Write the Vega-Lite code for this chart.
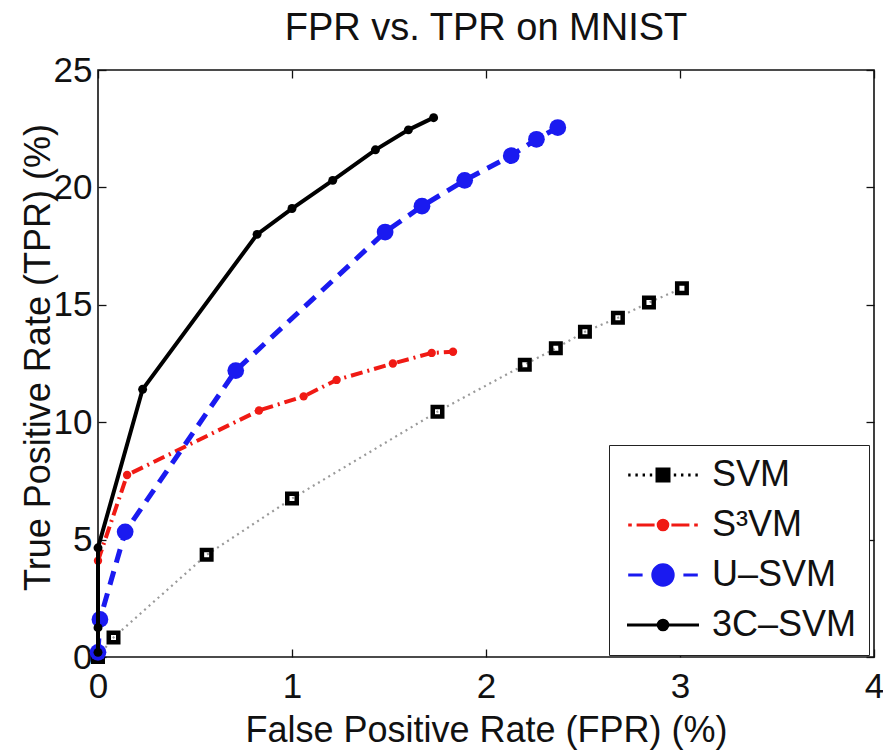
{
  "$schema": "https://vega.github.io/schema/vega-lite/v6.json",
  "width": 776,
  "height": 587,
  "autosize": {"type": "none"},
  "padding": {"left": 98, "top": 70, "right": 9, "bottom": 98},
  "background": "white",
  "config": {
    "font": "Liberation Sans",
    "view": {"stroke": "#111", "strokeWidth": 1.6},
    "axis": {
      "grid": false,
      "domain": false,
      "tickColor": "#111",
      "tickSize": -8,
      "tickWidth": 1.3,
      "labelFont": "Liberation Sans",
      "labelFontSize": 35,
      "labelColor": "#111",
      "titleFont": "Liberation Sans",
      "titleFontSize": 36,
      "titleFontWeight": "normal",
      "titleColor": "#111"
    },
    "legend": {
      "symbolOpacity": 1
    }
  },
  "title": {
    "text": "FPR vs. TPR on MNIST",
    "font": "Liberation Sans",
    "fontSize": 38,
    "fontWeight": "normal",
    "color": "#111",
    "anchor": "middle",
    "baseline": "alphabetic",
    "offset": 20,
    "dy": 45
  },
  "data": {
    "values": [
      {"method": "SVM", "i": 0, "fpr": 0.0, "tpr": 0.0},
      {"method": "SVM", "i": 1, "fpr": 0.08, "tpr": 0.83},
      {"method": "SVM", "i": 2, "fpr": 0.56, "tpr": 4.35},
      {"method": "SVM", "i": 3, "fpr": 1.0, "tpr": 6.75},
      {"method": "SVM", "i": 4, "fpr": 1.75, "tpr": 10.45},
      {"method": "SVM", "i": 5, "fpr": 2.2, "tpr": 12.45},
      {"method": "SVM", "i": 6, "fpr": 2.36, "tpr": 13.15},
      {"method": "SVM", "i": 7, "fpr": 2.51, "tpr": 13.85},
      {"method": "SVM", "i": 8, "fpr": 2.68, "tpr": 14.45},
      {"method": "SVM", "i": 9, "fpr": 2.84, "tpr": 15.1},
      {"method": "SVM", "i": 10, "fpr": 3.01, "tpr": 15.7},
      {"method": "S³VM", "i": 0, "fpr": 0.0, "tpr": 4.1},
      {"method": "S³VM", "i": 1, "fpr": 0.15, "tpr": 7.75},
      {"method": "S³VM", "i": 2, "fpr": 0.83, "tpr": 10.5},
      {"method": "S³VM", "i": 3, "fpr": 1.06, "tpr": 11.1},
      {"method": "S³VM", "i": 4, "fpr": 1.23, "tpr": 11.8},
      {"method": "S³VM", "i": 5, "fpr": 1.52, "tpr": 12.5},
      {"method": "S³VM", "i": 6, "fpr": 1.72, "tpr": 12.95},
      {"method": "S³VM", "i": 7, "fpr": 1.83, "tpr": 13.0},
      {"method": "U–SVM", "i": 0, "fpr": 0.0, "tpr": 0.2},
      {"method": "U–SVM", "i": 1, "fpr": 0.01, "tpr": 1.6},
      {"method": "U–SVM", "i": 2, "fpr": 0.14, "tpr": 5.33},
      {"method": "U–SVM", "i": 3, "fpr": 0.71, "tpr": 12.2},
      {"method": "U–SVM", "i": 4, "fpr": 1.48, "tpr": 18.1},
      {"method": "U–SVM", "i": 5, "fpr": 1.67, "tpr": 19.2},
      {"method": "U–SVM", "i": 6, "fpr": 1.89, "tpr": 20.3},
      {"method": "U–SVM", "i": 7, "fpr": 2.13, "tpr": 21.35},
      {"method": "U–SVM", "i": 8, "fpr": 2.26, "tpr": 22.05},
      {"method": "U–SVM", "i": 9, "fpr": 2.37, "tpr": 22.55},
      {"method": "3C–SVM", "i": 0, "fpr": 0.0, "tpr": 0.2},
      {"method": "3C–SVM", "i": 1, "fpr": 0.0, "tpr": 1.25},
      {"method": "3C–SVM", "i": 2, "fpr": 0.0, "tpr": 4.65},
      {"method": "3C–SVM", "i": 3, "fpr": 0.23, "tpr": 11.4},
      {"method": "3C–SVM", "i": 4, "fpr": 0.82, "tpr": 18.0},
      {"method": "3C–SVM", "i": 5, "fpr": 1.0, "tpr": 19.1},
      {"method": "3C–SVM", "i": 6, "fpr": 1.21, "tpr": 20.3},
      {"method": "3C–SVM", "i": 7, "fpr": 1.43, "tpr": 21.6},
      {"method": "3C–SVM", "i": 8, "fpr": 1.6, "tpr": 22.45},
      {"method": "3C–SVM", "i": 9, "fpr": 1.73, "tpr": 22.97}
    ]
  },
  "layer": [
    {
      "encoding": {
        "x": {
          "field": "fpr",
          "type": "quantitative",
          "scale": {"domain": [0, 4], "nice": false, "zero": false},
          "axis": {
            "values": [0, 1, 2, 3, 4],
            "title": "False Positive Rate (FPR) (%)",
            "labelPadding": 20,
            "labelFlush": false,
            "titleY": 84,
            "titleBaseline": "alphabetic"
          }
        },
        "y": {
          "field": "tpr",
          "type": "quantitative",
          "scale": {"domain": [0, 25], "nice": false, "zero": false},
          "axis": {
            "values": [0, 5, 10, 15, 20, 25],
            "title": "True Positive Rate (TPR) (%)",
            "labelPadding": 14,
            "labelFlush": false,
            "titleX": -49,
            "titleY": 287,
            "titleAngle": -90,
            "titleAlign": "center",
            "titleBaseline": "alphabetic"
          }
        },
        "order": {"field": "i", "type": "quantitative"}
      },
      "layer": [
        {
          "transform": [{"filter": "datum.method === 'SVM'"}],
          "mark": {"type": "line", "color": "#9a9a9a", "strokeWidth": 2.2, "strokeDash": [2, 4]}
        },
        {
          "transform": [{"filter": "datum.method === 'SVM'"}],
          "mark": {"type": "point", "shape": "square", "filled": false, "stroke": "#000", "strokeWidth": 4.5, "size": 90, "opacity": 1}
        },
        {
          "transform": [{"filter": "datum.method === 'S³VM'"}],
          "mark": {"type": "line", "color": "#f01a14", "strokeWidth": 4, "strokeDash": [12, 5, 2, 5]}
        },
        {
          "transform": [{"filter": "datum.method === 'S³VM'"}],
          "mark": {"type": "point", "shape": "circle", "filled": true, "color": "#f01a14", "size": 70, "opacity": 1}
        },
        {
          "transform": [{"filter": "datum.method === 'U–SVM'"}],
          "mark": {"type": "line", "color": "#1a1af0", "strokeWidth": 5, "strokeDash": [14, 9]}
        },
        {
          "transform": [{"filter": "datum.method === 'U–SVM'"}],
          "mark": {"type": "point", "shape": "circle", "filled": true, "color": "#1a1af0", "size": 280, "opacity": 1}
        },
        {
          "transform": [{"filter": "datum.method === '3C–SVM'"}],
          "mark": {"type": "line", "color": "#000", "strokeWidth": 4}
        },
        {
          "transform": [{"filter": "datum.method === '3C–SVM'"}],
          "mark": {"type": "point", "shape": "circle", "filled": true, "color": "#000", "size": 80, "opacity": 1}
        }
      ]
    },
    {
      "mark": {"type": "point", "opacity": 0, "filled": false},
      "encoding": {
        "x": {
          "field": "fpr",
          "type": "quantitative",
          "scale": {"domain": [0, 4], "nice": false, "zero": false},
          "axis": {"orient": "top", "labels": false, "title": null, "values": [0, 1, 2, 3, 4]}
        },
        "y": {
          "field": "tpr",
          "type": "quantitative",
          "scale": {"domain": [0, 25], "nice": false, "zero": false},
          "axis": {"orient": "right", "labels": false, "title": null, "values": [0, 5, 10, 15, 20, 25]}
        },
        "shape": {
          "field": "method",
          "type": "nominal",
          "scale": {
            "domain": ["SVM", "S³VM", "U–SVM", "3C–SVM"],
            "range": [
              "M-0.9,0H-0.7M-0.3,0H-0.1M0.3,0H0.5M0.9,0H1.1M2.9,0H3.1M3.5,0H3.7M4.1,0H4.3M4.7,0H4.9M1.5,-0.5H2.5V0.5H1.5Z",
              "M-0.9,0H-0.6M-0.2,0H1.3M2.7,0H4.2M4.6,0H4.9M1.6,0A0.4,0.4,0,1,1,2.4,0A0.4,0.4,0,1,1,1.6,0Z",
              "M-0.9,0H0.3M3.7,0H4.9M1.15,0A0.85,0.85,0,1,1,2.85,0A0.85,0.85,0,1,1,1.15,0Z",
              "M-1,0H5M1.6,0A0.4,0.4,0,1,1,2.4,0A0.4,0.4,0,1,1,1.6,0Z"
            ]
          },
          "legend": {
            "title": null,
            "orient": "none",
            "legendX": 511,
            "legendY": 375,
            "padding": 12,
            "strokeColor": "#222",
            "fillColor": "white",
            "cornerRadius": 0,
            "labelFont": "Liberation Sans",
            "labelFontSize": 36,
            "labelColor": "#111",
            "labelLimit": 400,
            "labelOffset": 55,
            "symbolSize": 576,
            "symbolStrokeWidth": 3,
            "symbolOpacity": 1,
            "rowPadding": 14
          }
        },
        "fill": {
          "field": "method",
          "type": "nominal",
          "scale": {"domain": ["SVM", "S³VM", "U–SVM", "3C–SVM"], "range": ["#000", "#f01a14", "#1a1af0", "#000"]},
          "legend": {"title": null}
        },
        "stroke": {
          "field": "method",
          "type": "nominal",
          "scale": {"domain": ["SVM", "S³VM", "U–SVM", "3C–SVM"], "range": ["#000", "#f01a14", "#1a1af0", "#000"]},
          "legend": {"title": null}
        }
      }
    }
  ],
  "resolve": {"axis": {"x": "independent", "y": "independent"}}
}
